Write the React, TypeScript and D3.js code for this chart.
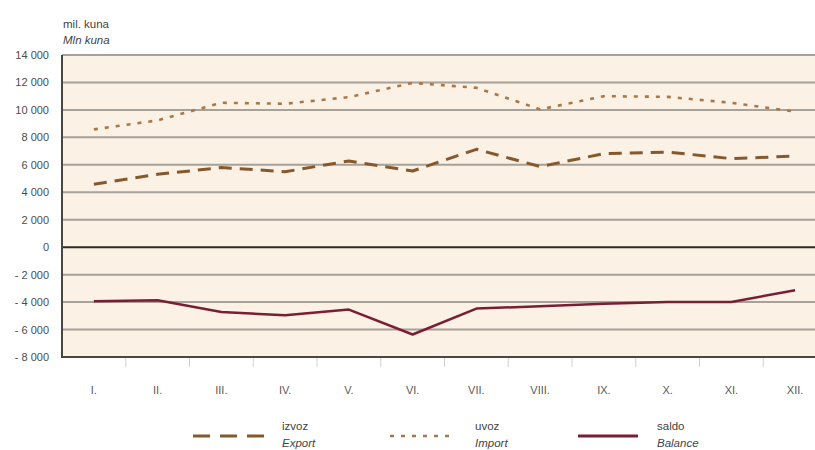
import React, { useEffect, useRef } from "react";
import * as d3 from "d3";

const months = ["I.", "II.", "III.", "IV.", "V.", "VI.", "VII.", "VIII.", "IX.", "X.", "XI.", "XII."];
const exportVals = [4580, 5310, 5800, 5500, 6280, 5550, 7130, 5870, 6810, 6930, 6450, 6640];
const importVals = [8580, 9240, 10520, 10450, 10930, 11970, 11610, 10040, 11000, 10950, 10520, 9880];
const balanceVals = [-3940, -3870, -4715, -4960, -4545, -6360, -4470, -4300, -4120, -3990, -3990, -3140];
const yTicks = [14000, 12000, 10000, 8000, 6000, 4000, 2000, 0, -2000, -4000, -6000, -8000];

const FONT = "'Liberation Sans', Arial, sans-serif";

const App: React.FC = () => {
  const svgRef = useRef<SVGSVGElement | null>(null);

  useEffect(() => {
    if (!svgRef.current) return;
    const width = 815;
    const height = 450;
    const margin = { top: 55, left: 62, right: 827, bottom: 357 };

    d3.select(svgRef.current).selectAll("*").remove();
    const svg = d3.select(svgRef.current).attr("width", width).attr("height", height);

    const x = d3.scaleBand<string>().domain(months).range([margin.left, margin.right]);
    const y = d3.scaleLinear().domain([-8000, 14000]).range([margin.bottom, margin.top]);
    const fmt = (v: number) => (v < 0 ? "- " : "") + d3.format(",")(Math.abs(v)).replace(",", " ");

    // plot background
    svg
      .append("rect")
      .attr("x", margin.left)
      .attr("y", margin.top)
      .attr("width", margin.right - margin.left)
      .attr("height", margin.bottom - margin.top)
      .attr("fill", "#fcf1e5");

    // gridlines
    svg
      .selectAll(".grid")
      .data(yTicks.filter((t) => t !== 0 && t !== -8000))
      .enter()
      .append("line")
      .attr("x1", margin.left)
      .attr("x2", margin.right)
      .attr("y1", (d) => y(d))
      .attr("y2", (d) => y(d))
      .attr("stroke", "#a6a199")
      .attr("stroke-width", 2);

    // zero line
    svg
      .append("line")
      .attr("x1", margin.left)
      .attr("x2", margin.right)
      .attr("y1", y(0))
      .attr("y2", y(0))
      .attr("stroke", "#2e2a26")
      .attr("stroke-width", 2);

    // axes border
    svg
      .append("path")
      .attr("d", `M${margin.left},${margin.top}V${margin.bottom}H${margin.right}`)
      .attr("fill", "none")
      .attr("stroke", "#4a4642")
      .attr("stroke-width", 2);

    // x ticks between categories
    svg
      .selectAll(".xtick")
      .data(months.slice(1))
      .enter()
      .append("line")
      .attr("x1", (d) => x(d)!)
      .attr("x2", (d) => x(d)!)
      .attr("y1", margin.bottom + 1)
      .attr("y2", margin.bottom + 10)
      .attr("stroke", "#d4d0cc")
      .attr("stroke-width", 1);

    // y labels
    svg
      .selectAll(".ylab")
      .data(yTicks)
      .enter()
      .append("text")
      .attr("x", 49)
      .attr("y", (d) => y(d) + 4)
      .attr("text-anchor", "end")
      .attr("fill", "#4d4d4d")
      .style("font-family", FONT)
      .style("font-size", "11px")
      .text((d) => fmt(d));

    // x labels
    svg
      .selectAll(".xlab")
      .data(months)
      .enter()
      .append("text")
      .attr("x", (d) => x(d)! + x.bandwidth() / 2)
      .attr("y", 394)
      .attr("text-anchor", "middle")
      .attr("fill", "#5a5a5a")
      .style("font-family", FONT)
      .style("font-size", "11px")
      .text((d) => d);

    // unit label
    svg.append("text").attr("x", 63).attr("y", 28).attr("fill", "#444")
      .style("font-family", FONT).style("font-size", "11.5px").text("mil. kuna");
    svg.append("text").attr("x", 63).attr("y", 44).attr("fill", "#444")
      .style("font-family", FONT).style("font-size", "11.5px").style("font-style", "italic").text("Mln kuna");

    const line = (vals: number[]) =>
      d3
        .line<number>()
        .x((_, i) => x(months[i])! + x.bandwidth() / 2)
        .y((d) => y(d))(vals);

    const series = [
      { vals: importVals, color: "#a8784a", width: 2.6, dash: "4,7", name: "uvoz", en: "Import", lx: 390 },
      { vals: exportVals, color: "#86582e", width: 3, dash: "13,8", name: "izvoz", en: "Export", lx: 193 },
      { vals: balanceVals, color: "#7a1e36", width: 2.5, dash: null, name: "saldo", en: "Balance", lx: 578 },
    ];

    series.forEach((s) => {
      svg
        .append("path")
        .attr("d", line(s.vals))
        .attr("fill", "none")
        .attr("stroke", s.color)
        .attr("stroke-width", s.width)
        .attr("stroke-dasharray", s.dash)
        .attr("stroke-linejoin", "round");

      // legend
      const legY = 436;
      const len = s.name === "izvoz" ? 74 : s.name === "uvoz" ? 63 : 60;
      svg
        .append("line")
        .attr("x1", s.lx)
        .attr("x2", s.lx + len)
        .attr("y1", legY)
        .attr("y2", legY)
        .attr("stroke", s.color)
        .attr("stroke-width", s.name === "saldo" ? 3 : s.width)
        .attr("stroke-dasharray", s.name === "izvoz" ? "17,10" : s.dash);
      const tx = s.lx + len + (s.name === "izvoz" ? 15 : s.name === "uvoz" ? 22 : 19);
      svg.append("text").attr("x", tx).attr("y", 430).attr("fill", "#444")
        .style("font-family", FONT).style("font-size", "11.5px").text(s.name);
      svg.append("text").attr("x", tx).attr("y", 447).attr("fill", "#444")
        .style("font-family", FONT).style("font-size", "11.5px").style("font-style", "italic").text(s.en);
    });
  }, []);

  return (
    <div style={{ position: "fixed", left: 0, top: 0, background: "#fff" }}>
      <svg ref={svgRef} style={{ display: "block" }}></svg>
    </div>
  );
};

export default App;
